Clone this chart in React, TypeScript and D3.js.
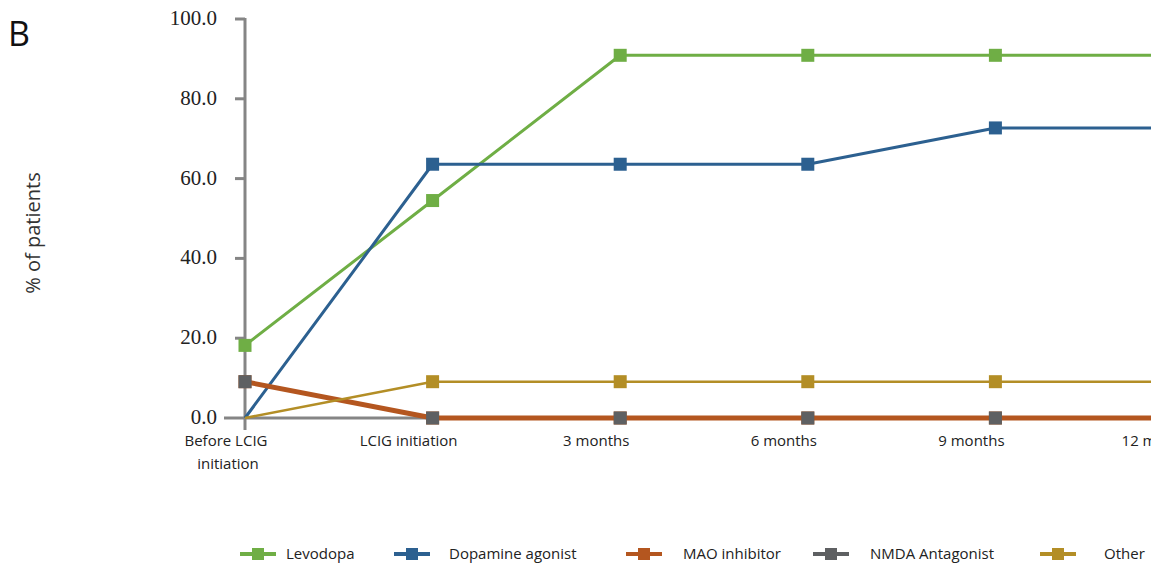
import { useEffect, useRef } from 'react';
import * as d3 from 'd3';

const categories = ['Before LCIG initiation', 'LCIG initiation', '3 months', '6 months', '9 months', '12 months'];
const levodopa = [18.2, 54.5, 90.9, 90.9, 90.9, 90.9];
const dopamineAgonist = [0, 63.6, 63.6, 63.6, 72.7, 72.7];
const maoInhibitor = [9.1, 0, 0, 0, 0, 0];
const nmdaAntagonist = [9.1, 0, 0, 0, 0, 0];
const other = [0, 9.1, 9.1, 9.1, 9.1, 9.1];
const yTicks = [0, 20, 40, 60, 80, 100];

const series = [
  { name: 'Levodopa', values: levodopa, color: '#6fae45', width: 3 },
  { name: 'Dopamine agonist', values: dopamineAgonist, color: '#2c6090', width: 3 },
  { name: 'MAO inhibitor', values: maoInhibitor, color: '#b4561f', width: 5 },
  { name: 'NMDA Antagonist', values: nmdaAntagonist, color: '#5e6062', width: 3 },
  { name: 'Other', values: other, color: '#b38e26', width: 2.5 },
];

const W = 1151;
const H = 568;

const App = () => {
  const svgRef = useRef<SVGSVGElement>(null);

  useEffect(() => {
    const svg = d3.select(svgRef.current);
    svg.selectAll('*').remove();

    const x = d3.scalePoint<string>().domain(categories).range([245, 1183]);
    const y = d3.scaleLinear().domain([0, 100]).range([418, 19]);
    const axisColor = '#858585';
    const sans = 'Open Sans, sans-serif';

    // panel letter and y axis title
    svg.append('text')
      .attr('x', 8).attr('y', 46)
      .attr('font-family', sans)
      .attr('font-size', 34)
      .attr('fill', '#111')
      .text('B');
    svg.append('text')
      .attr('transform', 'translate(40,233) rotate(-90)')
      .attr('text-anchor', 'middle')
      .attr('font-family', sans)
      .attr('font-size', 20)
      .attr('fill', '#333')
      .text('% of patients');

    // axes
    const g = svg.append('g');
    g.append('line')
      .attr('x1', x(categories[0])!).attr('x2', x(categories[0])!)
      .attr('y1', y(100) - 1).attr('y2', 430)
      .attr('stroke', axisColor).attr('stroke-width', 3);
    g.selectAll('line.ytick')
      .data(yTicks)
      .join('line')
      .attr('class', 'ytick')
      .attr('x1', (d) => (d === 0 ? 224 : 235)).attr('x2', 245)
      .attr('y1', (d) => y(d)).attr('y2', (d) => y(d))
      .attr('stroke', axisColor).attr('stroke-width', 3);
    g.append('line')
      .attr('x1', 245).attr('x2', W)
      .attr('y1', y(0)).attr('y2', y(0))
      .attr('stroke', axisColor).attr('stroke-width', 3);
    g.selectAll('text.ylab')
      .data(yTicks)
      .join('text')
      .attr('class', 'ylab')
      .attr('x', 217).attr('y', (d) => y(d) + 6)
      .attr('text-anchor', 'end')
      .attr('font-family', 'Liberation Serif, serif')
      .attr('font-size', 21)
      .attr('fill', '#222')
      .text((d) => d3.format('.1f')(d));

    // x labels, sitting a bit left of their points like the original
    categories.forEach((c) => {
      const words = c === 'Before LCIG initiation' ? ['Before LCIG', 'initiation'] : [c];
      const t = g.append('text')
        .attr('text-anchor', 'middle')
        .attr('font-family', sans)
        .attr('font-size', 15)
        .attr('fill', '#222');
      words.forEach((w, i) => {
        const shift = words.length > 1 ? (i === 0 ? 19 : 17) : 24;
        t.append('tspan').attr('x', x(c)! - shift).attr('y', 446 + i * 23).text(w);
      });
    });

    const line = d3.line<number>()
      .x((_, i) => x(categories[i])!)
      .y((d) => y(d));

    const lineOrder = [3, 0, 1, 2, 4];
    lineOrder.forEach((si) => {
      const s = series[si];
      svg.append('path')
        .datum(s.values)
        .attr('d', line)
        .attr('fill', 'none')
        .attr('stroke', s.color)
        .attr('stroke-width', s.width)
        .attr('stroke-linejoin', 'round');
    });

    const markerOrder = [0, 1, 2, 4, 3];
    markerOrder.forEach((si) => {
      const s = series[si];
      svg.append('g')
        .selectAll('rect')
        .data(s.values.map((v, i) => ({ v, i })).filter((d) => d.v > 0 || d.i > 0))
        .join('rect')
        .attr('x', (d) => x(categories[d.i])! - 6.5)
        .attr('y', (d) => y(d.v) - 6.5)
        .attr('width', 13).attr('height', 13)
        .attr('fill', s.color);
    });

    // legend
    const legendX = [240, 394, 626, 813, 1040];
    const legendTextX = [286, 449, 683, 870, 1104];
    const ly = 554;
    series.forEach((s, i) => {
      const lg = svg.append('g');
      lg.append('line')
        .attr('x1', legendX[i]).attr('x2', legendX[i] + 36)
        .attr('y1', ly).attr('y2', ly)
        .attr('stroke', s.color).attr('stroke-width', 4);
      lg.append('rect')
        .attr('x', legendX[i] + 12).attr('y', ly - 6)
        .attr('width', 12).attr('height', 12)
        .attr('fill', s.color);
      lg.append('text')
        .attr('x', legendTextX[i]).attr('y', ly + 5)
        .attr('font-family', sans)
        .attr('font-size', 15)
        .attr('fill', '#222')
        .text(s.name);
    });
  }, []);

  return (
    <svg
      ref={svgRef}
      width={W}
      height={H}
      style={{ position: 'absolute', left: 0, top: 0, background: '#fff' }}
    />
  );
};

export default App;
